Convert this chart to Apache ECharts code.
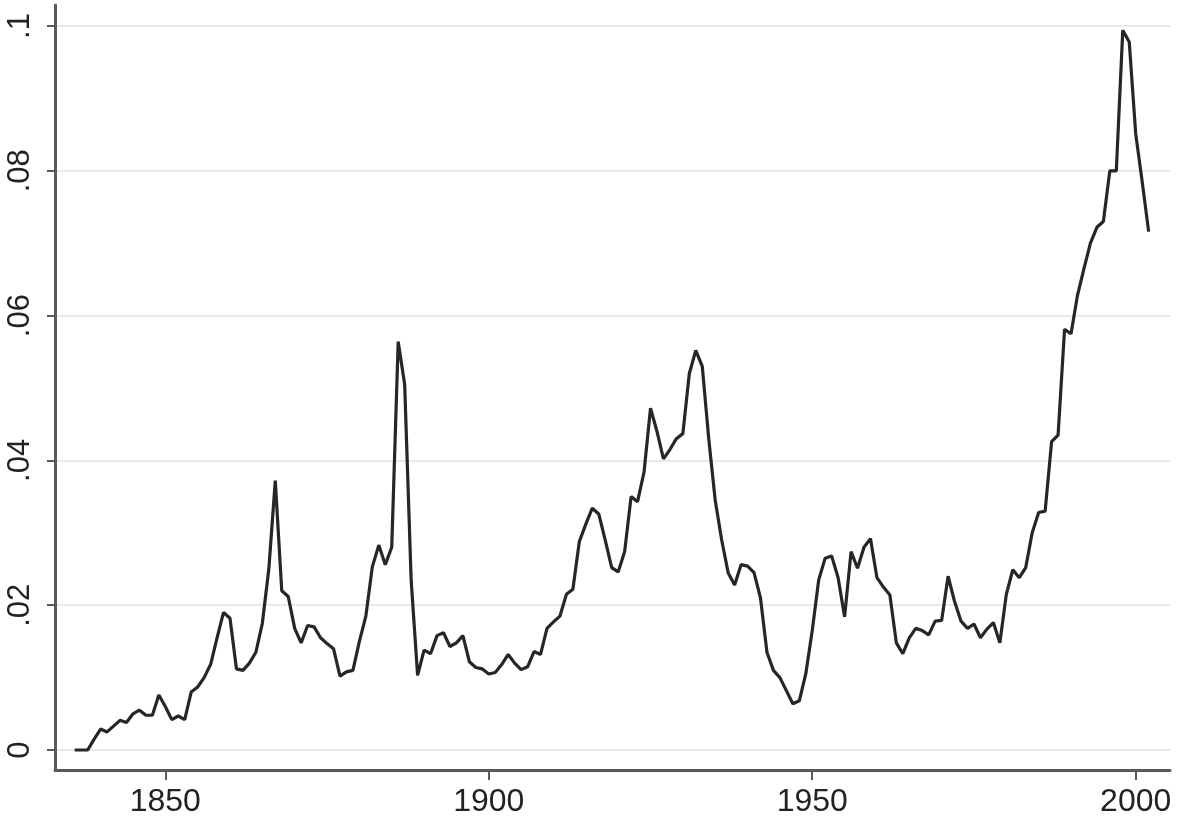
<!DOCTYPE html>
<html>
<head>
<meta charset="utf-8">
<script src="https://cdn.jsdelivr.net/npm/echarts@6/dist/echarts.min.js"></script>
<style>html,body{margin:0;padding:0;background:#fff}#chart{width:1198px;height:820px}</style>
</head>
<body>
<div id="chart"></div>
<script>
const years = [1836,1837,1838,1839,1840,1841,1842,1843,1844,1845,1846,1847,1848,1849,
1850,1851,1852,1853,1854,1855,1856,1857,1858,1859,1860,1861,1862,1863,1864,1865,1866,1867,1868,1869,
1870,1871,1872,1873,1874,1875,1876,1877,1878,1879,1880,1881,1882,1883,1884,1885,1886,1887,1888,1889,
1890,1891,1892,1893,1894,1895,1896,1897,1898,1899,1900,1901,1902,1903,1904,1905,1906,1907,1908,1909,
1910,1911,1912,1913,1914,1915,1916,1917,1918,1919,1920,1921,1922,1923,1924,1925,1926,1927,1928,1929,
1930,1931,1932,1933,1934,1935,1936,1937,1938,1939,1940,1941,1942,1943,1944,1945,1946,1947,1948,1949,
1950,1951,1952,1953,1954,1955,1956,1957,1958,1959,1960,1961,1962,1963,1964,1965,1966,1967,1968,1969,
1970,1971,1972,1973,1974,1975,1976,1977,1978,1979,1980,1981,1982,1983,1984,1985,1986,1987,1988,1989,
1990,1991,1992,1993,1994,1995,1996,1997,1998,1999,2000,2001,2002];
const values = [0,0,0,0.0015,0.0029,0.0025,0.0033,0.0041,0.0038,0.0050,0.0055,0.0048,0.0048,0.0076,
0.0060,0.0042,0.0047,0.0042,0.0080,0.0087,0.0100,0.0118,0.0155,0.0190,0.0182,0.0112,0.0110,0.0120,0.0135,0.0175,0.0250,0.0372,0.0220,0.0212,
0.0168,0.0148,0.0172,0.0170,0.0155,0.0147,0.0140,0.0102,0.0108,0.0110,0.0150,0.0185,0.0253,0.0283,0.0256,0.0280,0.0564,0.0505,0.0235,0.0103,
0.0138,0.0133,0.0158,0.0162,0.0143,0.0148,0.0158,0.0122,0.0114,0.0112,0.0105,0.0107,0.0118,0.0132,0.0120,0.0111,0.0115,0.0136,0.0132,0.0168,
0.0177,0.0185,0.0215,0.0222,0.0288,0.0312,0.0334,0.0326,0.0290,0.0252,0.0246,0.0274,0.0350,0.0343,0.0384,0.0472,0.0440,0.0402,0.0415,0.0430,
0.0437,0.0520,0.0552,0.0530,0.0430,0.0345,0.0290,0.0245,0.0228,0.0256,0.0254,0.0245,0.0210,0.0135,0.0110,0.0100,0.0082,0.0064,0.0068,0.0105,
0.0165,0.0235,0.0265,0.0268,0.0238,0.0184,0.0274,0.0251,0.0280,0.0292,0.0238,0.0225,0.0214,0.0148,0.0133,0.0155,0.0168,0.0165,0.0159,0.0178,
0.0179,0.0240,0.0205,0.0178,0.0168,0.0174,0.0155,0.0167,0.0176,0.0148,0.0215,0.0249,0.0238,0.0252,0.0300,0.0328,0.0330,0.0426,0.0435,0.0581,
0.0575,0.0628,0.0665,0.0700,0.0722,0.0730,0.0800,0.0800,0.0994,0.0978,0.0851,0.0785,0.0716];
const xTicks = [1850, 1900, 1950, 2000];
const yTicks = [0, 0.02, 0.04, 0.06, 0.08, 0.1];
const yTickLabels = ['0', '.02', '.04', '.06', '.08', '.1'];

const chart = echarts.init(document.getElementById('chart'), null, {renderer: 'canvas'});
const axisColor = '#5a5a5a';
const labelFont = {color: '#222', fontFamily: 'Liberation Sans, Arial, sans-serif'};
chart.setOption({
  animation: false,
  backgroundColor: '#ffffff',
  grid: {left: 55, right: 28, top: 5, bottom: 50, containLabel: false},
  xAxis: {
    type: 'value', min: 1832.95, max: 2005.3,
    axisLine: {show: true, onZero: false, lineStyle: {color: axisColor, width: 3}},
    axisTick: {show: true, length: 10, lineStyle: {color: axisColor, width: 2}, customValues: xTicks},
    axisLabel: Object.assign({margin: 16, fontSize: 32, customValues: xTicks, formatter: v => String(v)}, labelFont),
    splitLine: {show: false}
  },
  yAxis: {
    type: 'value', min: -0.00276, max: 0.1029,
    axisLine: {show: true, onZero: false, lineStyle: {color: axisColor, width: 3}},
    axisTick: {show: true, length: 8, lineStyle: {color: axisColor, width: 2}, customValues: yTicks},
    axisLabel: Object.assign({margin: 19, fontSize: 31, rotate: 90, customValues: yTicks,
      formatter: v => { const i = yTicks.findIndex(t => Math.abs(t - v) < 1e-9); return i >= 0 ? yTickLabels[i] : ''; }}, labelFont),
    splitLine: {show: true, lineStyle: {color: '#e6eaea', width: 2}}
  },
  series: [{
    type: 'line',
    data: years.map((y, i) => [y, values[i]]),
    showSymbol: false,
    lineStyle: {color: '#262626', width: 3.2},
    itemStyle: {color: '#262626'}
  }]
});
</script>
</body>
</html>
